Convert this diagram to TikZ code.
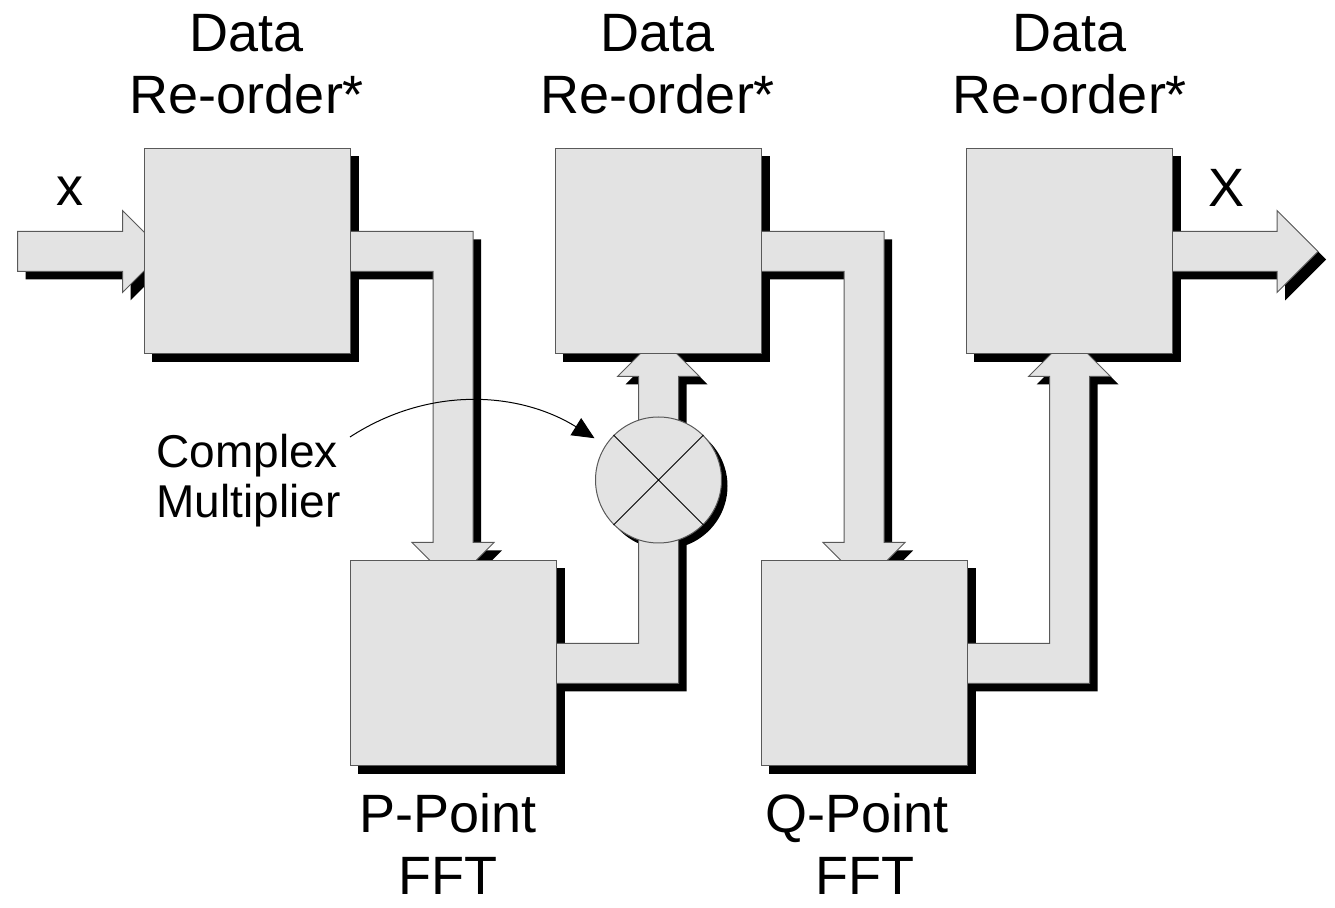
\documentclass[tikz,border=0pt]{standalone}
\usepackage{fontspec}
\setmainfont{Liberation Sans}
\usetikzlibrary{calc,arrows.meta}

\pgfdeclarelayer{shadowlayer}
\pgfdeclarelayer{pipelayer}
\pgfsetlayers{shadowlayer,pipelayer,main}

\tikzset{
  block/.style={draw=black!65, line width=0.5pt, fill=black!11,
    minimum width=103pt, minimum height=102.5pt, inner sep=0pt},
  mulnode/.style={circle, draw=black!65, line width=0.5pt, fill=black!11,
    minimum size=63pt, inner sep=0pt},
  pipebody/.style={draw=black!65, line width=0.5pt, fill=black!11},
  pipeshadow/.style={fill=black, transform canvas={xshift=4pt,yshift=-4pt}},
  lbl/.style={font=\fontsize{27}{31}\selectfont, anchor=base, inner sep=0pt},
  smalllbl/.style={font=\fontsize{23}{27}\selectfont, anchor=base west, inner sep=0pt},
  note/.style={line width=0.5pt, -{Triangle[length=11pt,width=10pt]}},
}

% flat shadow behind a block
\newcommand\blockshadow[1]{%
  \begin{pgfonlayer}{shadowlayer}
    \fill[black] ([xshift=4pt,yshift=-4pt]#1.south west) rectangle ([xshift=4pt,yshift=-4pt]#1.north east);
  \end{pgfonlayer}}

% wide pipe: leaves #2 to the right, turns down into the top of #3
\newcommand\pipedownpath[3]{%
  \path[#1] let \p1=(#2.east), \p2=(#3.north) in
    (\x1-3pt,\y1+10pt) -- (\x2+10pt,\y1+10pt) -- (\x2+10pt,\y2+9pt) --
    (\x2+20.5pt,\y2+9pt) -- (\x2,\y2-11.5pt) -- (\x2-20.5pt,\y2+9pt) --
    (\x2-10pt,\y2+9pt) -- (\x2-10pt,\y1-10pt) -- (\x1-3pt,\y1-10pt) -- cycle;}
\newcommand\pipedown[2]{%
  \begin{pgfonlayer}{shadowlayer}\pipedownpath{pipeshadow}{#1}{#2}\end{pgfonlayer}%
  \begin{pgfonlayer}{pipelayer}\pipedownpath{pipebody}{#1}{#2}\end{pgfonlayer}}

% wide pipe: leaves #2 to the right, turns up into the bottom of #3
\newcommand\pipeuppath[3]{%
  \path[#1] let \p1=(#2.east), \p2=(#3.south) in
    (\x1-3pt,\y1-10pt) -- (\x2+10pt,\y1-10pt) -- (\x2+10pt,\y2-11pt) --
    (\x2+20.5pt,\y2-11pt) -- (\x2,\y2+9.5pt) -- (\x2-20.5pt,\y2-11pt) --
    (\x2-10pt,\y2-11pt) -- (\x2-10pt,\y1+10pt) -- (\x1-3pt,\y1+10pt) -- cycle;}
\newcommand\pipeup[2]{%
  \begin{pgfonlayer}{shadowlayer}\pipeuppath{pipeshadow}{#1}{#2}\end{pgfonlayer}%
  \begin{pgfonlayer}{pipelayer}\pipeuppath{pipebody}{#1}{#2}\end{pgfonlayer}}

% straight horizontal pipe from point #2 to arrow tip #3
\newcommand\pipehpath[3]{%
  \path[#1] let \p1=(#2), \p2=(#3) in
    (\x1,\y1+10pt) -- (\x2-20.5pt,\y1+10pt) -- (\x2-20.5pt,\y1+20.5pt) --
    (\x2,\y1) -- (\x2-20.5pt,\y1-20.5pt) -- (\x2-20.5pt,\y1-10pt) --
    (\x1,\y1-10pt) -- cycle;}
\newcommand\pipeh[2]{%
  \begin{pgfonlayer}{shadowlayer}\pipehpath{pipeshadow}{#1}{#2}\end{pgfonlayer}%
  \begin{pgfonlayer}{pipelayer}\pipehpath{pipebody}{#1}{#2}\end{pgfonlayer}}

\begin{document}
\begin{tikzpicture}[x=0.5pt, y=-0.5pt]
  \useasboundingbox (0,0) rectangle (1335,908);

  % processing blocks
  \node[block] (r1) at (247,251.5)   {};
  \node[block] (r2) at (658.5,251.5) {};
  \node[block] (r3) at (1069.5,251.5){};
  \node[block] (fp) at (453,663.5)   {};
  \node[block] (fq) at (864,663.5)   {};
  \foreach \b in {r1,r2,r3,fp,fq} {\blockshadow{\b}}

  % complex multiplier
  \node[mulnode] (mul) at (658.5,480) {};
  \begin{pgfonlayer}{shadowlayer}
    \fill[black] ([xshift=3pt,yshift=-3pt]mul.center) circle[radius=31.5pt];
  \end{pgfonlayer}
  \draw[line width=0.5pt] (mul.north west) -- (mul.south east)
                          (mul.north east) -- (mul.south west);

  % data paths
  \coordinate (in)  at ([xshift=-63pt]r1.west);
  \coordinate (out) at ([xshift=72.5pt]r3.east);
  \pipeh{in}{[xshift=10pt]r1.west}
  \pipedown{r1}{fp}
  \pipeup{fp}{r2}
  \pipedown{r2}{fq}
  \pipeup{fq}{r3}
  \pipeh{[xshift=-3pt]r3.east}{out}

  % labels
  \node[lbl] (t1a) at (247,52)  {Data};
  \node[lbl] (t1b) at (247,114) {Re-order*};
  \node[lbl] (t2a) at (658,52)  {Data};
  \node[lbl] (t2b) at (658,114) {Re-order*};
  \node[lbl] (t3a) at (1070,52)  {Data};
  \node[lbl] (t3b) at (1070,114) {Re-order*};
  \node[lbl] (tx)  at (70,206)   {x};
  \node[lbl] (tX)  at (1226,207) {X};
  \node[smalllbl] (c1) at (156,468) {Complex};
  \node[smalllbl] (c2) at (156,518) {Multiplier};
  \node[lbl] (p1) at (448,833) {P-Point};
  \node[lbl] (p2) at (448,895) {FFT};
  \node[lbl] (q1) at (857,833) {Q-Point};
  \node[lbl] (q2) at (865,895) {FFT};

  % pointer from the caption to the multiplier
  \coordinate (cm) at (350,437);
  \draw[note] (cm) .. controls (430,385) and (520,392) .. ([shift={(-4.5pt,5pt)}]mul.150);
\end{tikzpicture}
\end{document}
